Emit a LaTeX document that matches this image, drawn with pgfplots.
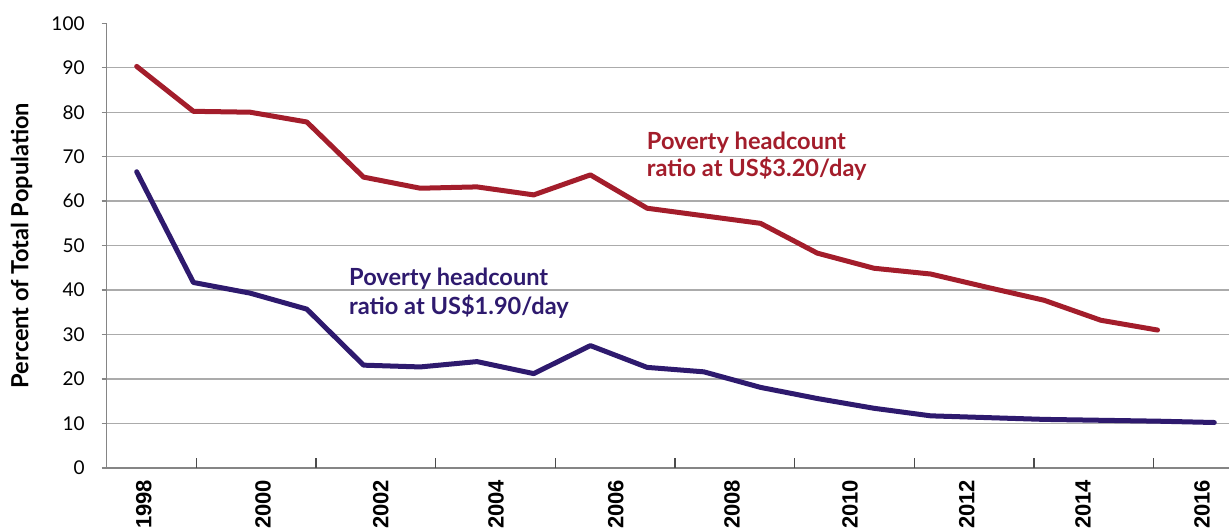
\documentclass[border=0pt]{standalone}
\usepackage{pgfplots}
\pgfplotsset{compat=1.18}
\usepackage{fontspec}
\setmainfont{Lato}
\newfontfamily\arial{Liberation Sans}
\definecolor{povred}{HTML}{A31D2B}
\definecolor{povpurple}{HTML}{2E1A6E}
\definecolor{axgray}{HTML}{858585}
\definecolor{gridgray}{HTML}{ABABAB}

\pgfplotstableread{
year  low  high
1998  66.6 90.3
1999  41.7 80.2
2000  39.3 80.0
2001  35.7 77.8
2002  23.1 65.4
2003  22.7 62.9
2004  23.9 63.2
2005  21.2 61.4
2006  27.5 65.9
2007  22.6 58.4
2008  21.6 56.7
2009  18.1 55.0
2010  15.6 48.3
2011  13.4 44.9
2012  11.7 43.6
2013  11.3 40.6
2014  10.9 37.7
2015  10.7 33.2
2016  10.5 31.0
2017  10.2 nan
}\povdata

\begin{document}
\begin{tikzpicture}
\begin{axis}[
    scale only axis,
    width=561pt, height=222.2pt,
    xmin=1997.47, xmax=2017.26,
    ymin=0, ymax=100,
    axis x line*=bottom, axis y line*=left,
    axis line style={draw=axgray, line width=0.8pt},
    ytick={0,10,...,90},
    extra y ticks={100},
    extra y tick style={grid=none},
    ymajorgrids,
    grid style={draw=gridgray, line width=0.7pt},
    tick align=outside,
    major tick length=2.5pt,
    ytick style={draw=axgray, line width=0.7pt},
    /pgf/number format/assume math mode=true,
    yticklabel style={font=\fontsize{9.5}{10}\selectfont, xshift=-5pt},
    xtick={1998.02,2000.12,2002.20,2004.23,2006.34,2008.39,2010.47,2012.53,2014.58,2016.68},
    xticklabels={1998,2000,2002,2004,2006,2008,2010,2012,2014,2016},
    major x tick style={draw=none},
    xticklabel style={font=\arial\bfseries\fontsize{11}{11}\selectfont, rotate=90, anchor=east, yshift=-3pt},
    extra x ticks={1999.05,2001.16,2003.27,2005.38,2007.49,2009.60,2011.71,2013.82,2015.93},
    extra x tick labels={},
    extra x tick style={tick align=inside, major tick length=5pt, grid=none,
        major x tick style={draw=black!70, line width=0.6pt}},
    ylabel={Percent of Total Population},
    ylabel style={font=\bfseries\fontsize{11.8}{12}\selectfont, at={(axis description cs:-0.0758,0.5)}, anchor=center},
    clip=false,
]
\addplot[povred, line width=2.5pt, line cap=round, line join=round] table[x=year, y=high] {\povdata};
\addplot[povpurple, line width=2.5pt, line cap=round, line join=round] table[x=year, y=low] {\povdata};
\node[anchor=base west, text=povpurple, font=\bfseries\fontsize{11.8}{12}\selectfont, inner sep=0pt] at (axis cs:2001.74,41.1) {Poverty headcount};
\node[anchor=base west, text=povpurple, font=\bfseries\fontsize{11.8}{12}\selectfont, inner sep=0pt] at (axis cs:2001.74,34.6) {ratio at US\$1.90/day};
\node[anchor=base west, text=povred, font=\bfseries\fontsize{11.8}{12}\selectfont, inner sep=0pt] at (axis cs:2006.99,71.7) {Poverty headcount};
\node[anchor=base west, text=povred, font=\bfseries\fontsize{11.8}{12}\selectfont, inner sep=0pt] at (axis cs:2006.99,65.5) {ratio at US\$3.20/day};
\coordinate (ll) at (rel axis cs:0,0);
\coordinate (ur) at (rel axis cs:1,1);
\end{axis}
\pgfresetboundingbox
\path ([xshift=-53.3pt,yshift=-30.7pt]ll) rectangle ([yshift=11.65pt]ur);
\end{tikzpicture}
\end{document}
